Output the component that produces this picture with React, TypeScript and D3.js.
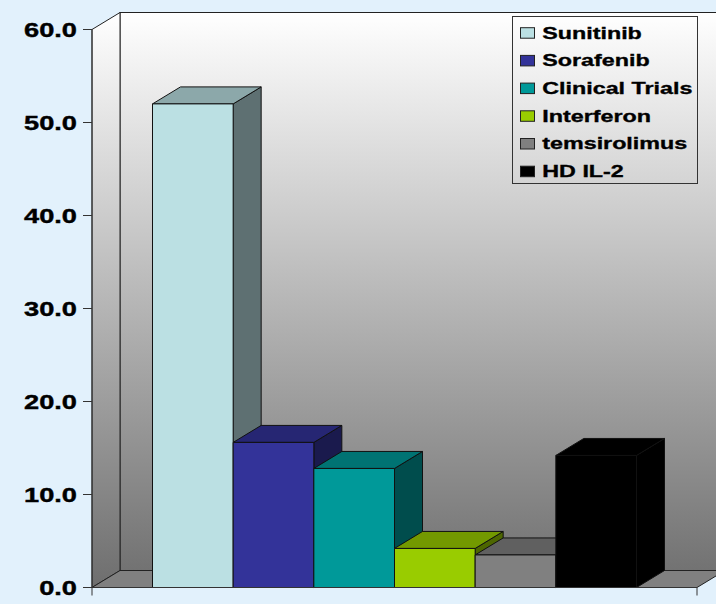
import React from "react";
import * as d3 from "d3";

const seriesNames = ["Sunitinib", "Sorafenib", "Clinical Trials", "Interferon", "temsirolimus", "HD IL-2"];
const seriesValues = [52.0, 15.6, 12.8, 4.2, 3.5, 14.2];
const seriesColors = ["#BBE0E3", "#333399", "#009999", "#99CC00", "#808080", "#000000"];
const yTicks = [0, 10, 20, 30, 40, 50, 60];

const W = 716;
const H = 604;
const X0 = 92;
const X1 = 697;
const Y0 = 587.5;
const Y1 = 29.5;
const DX = 28;
const DY = 17;

function shade(c: string, k: number) {
  const col = d3.rgb(c);
  return d3.rgb(col.r * k, col.g * k, col.b * k).formatHex();
}

export default function App() {
  const y = d3.scaleLinear().domain([0, 60]).range([Y0, Y1]);
  const x = d3.scaleBand<string>().domain(seriesNames).range([X0, X1]).paddingInner(0).paddingOuter(0.75);
  const bw = x.bandwidth();
  const yTop = y(60);
  const stroke = "#222";

  return (
    <svg width={W} height={H} style={{ position: "absolute", left: 0, top: 0, display: "block" }}>
      <defs>
        <linearGradient id="wall" x1="0" y1={yTop - DY} x2="0" y2={Y0} gradientUnits="userSpaceOnUse">
          <stop offset="0" stopColor="#FFFFFF" />
          <stop offset="1" stopColor="#6E6E6E" />
        </linearGradient>
      </defs>
      <rect x={0} y={0} width={W} height={H} fill="#E2F1FC" />
      {/* back wall */}
      <rect x={X0 + DX} y={yTop - DY} width={X1 - X0 + 10} height={Y0 - yTop} fill="url(#wall)" stroke={stroke} strokeWidth={1} />
      {/* side wall */}
      <polygon
        points={`${X0},${yTop} ${X0 + DX},${yTop - DY} ${X0 + DX},${Y0 - DY} ${X0},${Y0}`}
        fill="url(#wall)"
        stroke={stroke}
        strokeWidth={1}
      />
      {/* floor */}
      <polygon
        points={`${X0},${Y0} ${X0 + DX},${Y0 - DY} ${X1 + DX},${Y0 - DY} ${X1},${Y0}`}
        fill="#808080"
        stroke={stroke}
        strokeWidth={1}
      />
      {/* bars */}
      {seriesNames.map((s, i) => {
        const v = seriesValues[i];
        const c = seriesColors[i];
        const xl = x(s)!;
        const xr = xl + bw;
        const yt = y(v);
        return (
          <g key={s} stroke="#111" strokeWidth={1} strokeLinejoin="round">
            <polygon points={`${xr},${yt} ${xr + DX},${yt - DY} ${xr + DX},${Y0 - DY} ${xr},${Y0}`} fill={shade(c, 0.5)} />
            <polygon points={`${xl},${yt} ${xl + DX},${yt - DY} ${xr + DX},${yt - DY} ${xr},${yt}`} fill={shade(c, 0.75)} />
            <rect x={xl} y={yt} width={bw} height={Y0 - yt} fill={c} />
          </g>
        );
      })}
      {/* value axis */}
      <line x1={X0} y1={yTop} x2={X0} y2={Y0 + 8} stroke="#333" strokeWidth={1} />
      <line x1={X0} y1={Y0} x2={X1} y2={Y0} stroke="#333" strokeWidth={1} />
      <line x1={X1} y1={Y0} x2={X1} y2={Y0 + 8} stroke="#333" strokeWidth={1} />
      {yTicks.map((t) => (
        <g key={t}>
          <line x1={X0 - 9} x2={X0} y1={y(t)} y2={y(t)} stroke="#333" strokeWidth={1} />
          <text
            transform={`translate(${77},${y(t) + 7.3}) scale(1.34,1)`}
            textAnchor="end"
            fontFamily="Liberation Sans, Arial, sans-serif"
            fontWeight="bold"
            fontSize={20.3}
            fill="#000"
            stroke="#000"
            strokeWidth={0.4}
          >
            {t.toFixed(1)}
          </text>
        </g>
      ))}
      {/* legend */}
      <rect x={512.5} y={16.5} width={185} height={167} fill="none" stroke="#333" strokeWidth={1} />
      {seriesNames.map((s, i) => {
        const yy = 27.7 + i * 27.7;
        return (
          <g key={"l" + s}>
            <rect x={520.5} y={yy} width={14} height={10.5} fill={seriesColors[i]} stroke="#222" strokeWidth={1} />
            <text
              transform={`translate(542.3,${yy + 10.8}) scale(1.37,1)`}
              fontFamily="Liberation Sans, Arial, sans-serif"
              fontWeight="bold"
              fontSize={17}
              fill="#000"
              stroke="#000"
              strokeWidth={0.35}
            >
              {s}
            </text>
          </g>
        );
      })}
    </svg>
  );
}
